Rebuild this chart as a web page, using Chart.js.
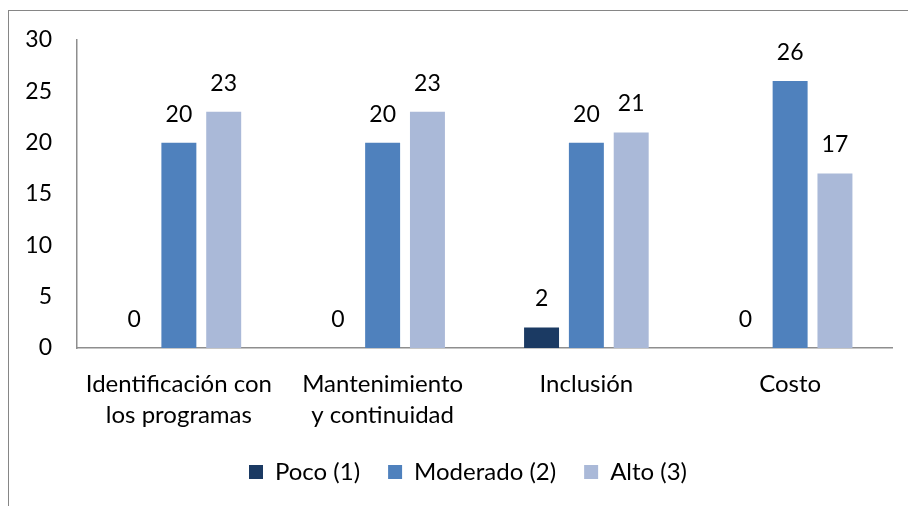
<!DOCTYPE html>
<html>
<head>
<meta charset="utf-8">
<script src="https://cdn.jsdelivr.net/npm/chart.js@4"></script>
<style>
  html, body { margin: 0; padding: 0; background: #fff; overflow: hidden; }
  #frame { position: absolute; left: 8px; top: 10px; width: 1000px; height: 1000px;
           border-top: 1px solid #868686; border-left: 1px solid #868686; }
  #wrap { position: absolute; left: 0; top: 0; width: 908px; height: 506px; }
</style>
</head>
<body>
<div id="frame"></div>
<div id="wrap"><canvas id="myChart" width="908" height="506"></canvas></div>
<script>
// datos del gráfico
const categorias = [
    ["Identificación con", "los programas"],
    ["Mantenimiento", "y continuidad"],
    ["Inclusión"],
    ["Costo"]
];
const poco = [0, 0, 2, 0];
const moderado = [20, 20, 20, 26];
const alto = [23, 23, 21, 17];
const ticksY = [0, 5, 10, 15, 20, 25, 30];

const fuente = "Lato, 'Open Sans', sans-serif";
const tam = 23;

// etiquetas de valor encima de cada barra
const etiquetasValor = {
    id: "etiquetasValor",
    afterDatasetsDraw(chart) {
        const ctx = chart.ctx;
        ctx.save();
        ctx.font = tam + "px " + fuente;
        ctx.fillStyle = "#000";
        ctx.textAlign = "center";
        ctx.textBaseline = "alphabetic";
        chart.data.datasets.forEach((ds, i) => {
            chart.getDatasetMeta(i).data.forEach((bar, j) => {
                ctx.fillText(String(ds.data[j]), bar.x, bar.y - 21);
            });
        });
        ctx.restore();
    }
};

// la leyenda va un poco a la derecha, como en el original
const moverLeyenda = {
    id: "moverLeyenda",
    afterLayout(chart) {
        if (chart.legend) {
            chart.legend.left += 22;
            chart.legend.right += 22;
        }
    }
};

new Chart(document.getElementById("myChart"), {
    type: "bar",
    data: {
        labels: categorias,
        datasets: [
            { label: "Poco (1)", data: poco, backgroundColor: "#1B3A63" },
            { label: "Moderado (2)", data: moderado, backgroundColor: "#4F81BD" },
            { label: "Alto (3)", data: alto, backgroundColor: "#AAB9D8" }
        ]
    },
    options: {
        responsive: false,
        animation: false,
        devicePixelRatio: 1,
        layout: { padding: { top: 40, right: 16, bottom: 12, left: 0 } },
        datasets: { bar: { categoryPercentage: 0.66, barPercentage: 0.78 } },
        plugins: {
            legend: {
                position: "bottom",
                labels: {
                    boxWidth: 14, boxHeight: 14, padding: 28,
                    color: "#000",
                    font: { family: fuente, size: 24 }
                }
            },
            tooltip: { enabled: false }
        },
        scales: {
            x: {
                grid: { display: false, drawTicks: false },
                border: { color: "#8e8e8e", width: 1.5 },
                ticks: { color: "#000", padding: 20, maxRotation: 0,
                         font: { family: fuente, size: 24, lineHeight: 1.32 } },
                afterFit: s => { s.height = 84; }
            },
            y: {
                min: 0, max: 30,
                grid: { display: false, drawTicks: false },
                border: { color: "#8e8e8e", width: 1.5 },
                afterBuildTicks: s => { s.ticks = ticksY.map(v => ({ value: v })); },
                ticks: { color: "#000", padding: 25,
                         font: { family: fuente, size: tam } },
                afterFit: s => { s.width = 77; }
            }
        }
    },
    plugins: [etiquetasValor, moverLeyenda]
});
</script>
</body>
</html>
